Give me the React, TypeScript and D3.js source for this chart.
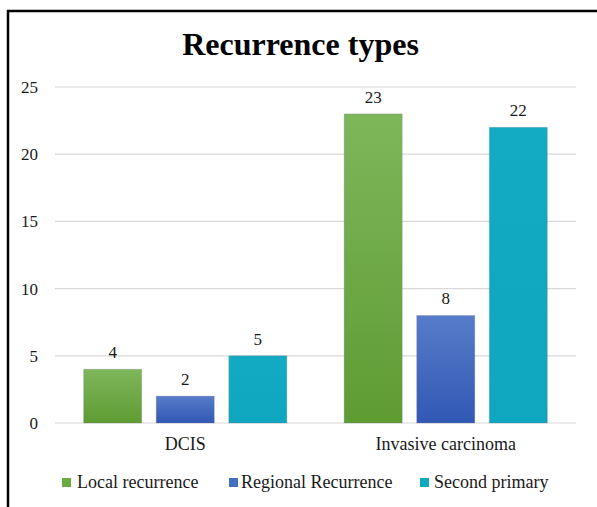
import { scaleBand, scaleLinear } from "d3";

const categories = ["DCIS", "Invasive carcinoma"];
const seriesNames = ["Local recurrence", "Regional Recurrence", "Second primary"];
const localRecurrence = [4, 23];
const regionalRecurrence = [2, 8];
const secondPrimary = [5, 22];
const yTicks = [0, 5, 10, 15, 20, 25];

const seriesValues = [localRecurrence, regionalRecurrence, secondPrimary];
const gradients = [
  { id: "g-local", top: "#7eb65b", bottom: "#5e9c32" },
  { id: "g-regional", top: "#577cca", bottom: "#3158b4" },
  { id: "g-second", top: "#13abc3", bottom: "#0fa6bf" },
];
const legendColors = ["#6aab44", "#4470c4", "#11a8c1"];

const W = 597;
const H = 507;
const serif = { fontFamily: "'Liberation Serif', 'Times New Roman', serif" };

export default function App() {
  const x0 = scaleBand<string>()
    .domain(categories)
    .range([55, 576])
    .paddingInner(0.22)
    .paddingOuter(0.11);
  const x1 = scaleBand<string>()
    .domain(seriesNames)
    .range([0, x0.bandwidth()])
    .paddingInner(0.2);
  const y = scaleLinear().domain([0, 25]).range([423, 87]);

  // legend square x positions and text offsets
  const legendX = [62, 229, 420];
  const legendTextX = [77, 241, 434];

  return (
    <svg
      width={W}
      height={H}
      style={{ position: "absolute", left: 0, top: 0, background: "#fff" }}
    >
      <defs>
        {gradients.map((g) => (
          <linearGradient key={g.id} id={g.id} x1="0" y1="0" x2="0" y2="1">
            <stop offset="0" stopColor={g.top} />
            <stop offset="1" stopColor={g.bottom} />
          </linearGradient>
        ))}
      </defs>
      <rect x={0} y={0} width={W} height={H} fill="#fff" />
      {/* frame */}
      <line x1={7} y1={11} x2={W} y2={11} stroke="#000" strokeWidth={2.5} />
      <line x1={8} y1={10} x2={8} y2={H} stroke="#000" strokeWidth={2.5} />

      <text
        x={300.5}
        y={55}
        textAnchor="middle"
        fontSize={32}
        fontWeight="bold"
        fill="#000"
        style={serif}
      >
        Recurrence types
      </text>

      {yTicks.map((t) => (
        <g key={t}>
          <line
            x1={55}
            x2={576}
            y1={y(t)}
            y2={y(t)}
            stroke="#d9d9d9"
            strokeWidth={1.2}
          />
          <text
            x={38}
            y={y(t) + 6}
            textAnchor="end"
            fontSize={17}
            fill="#1a1a1a"
            style={serif}
          >
            {t}
          </text>
        </g>
      ))}

      {categories.map((c, ci) => (
        <g key={c}>
          {seriesNames.map((s, si) => {
            const v = seriesValues[si][ci];
            const bx = (x0(c) ?? 0) + (x1(s) ?? 0);
            return (
              <g key={s}>
                <rect
                  x={bx}
                  y={y(v)}
                  width={x1.bandwidth()}
                  height={y(0) - y(v)}
                  fill={`url(#${gradients[si].id})`}
                  stroke="rgba(120,120,140,0.25)"
                  strokeWidth={1}
                />
                <text
                  x={bx + x1.bandwidth() / 2}
                  y={y(v) - 11}
                  textAnchor="middle"
                  fontSize={17}
                  fill="#1a1a1a"
                  style={serif}
                >
                  {v}
                </text>
              </g>
            );
          })}
          <text
            x={(x0(c) ?? 0) + x0.bandwidth() / 2}
            y={450}
            textAnchor="middle"
            fontSize={18}
            fill="#1a1a1a"
            style={serif}
          >
            {c}
          </text>
        </g>
      ))}

      {seriesNames.map((s, si) => (
        <g key={s}>
          <rect
            x={legendX[si]}
            y={478}
            width={9}
            height={9}
            fill={legendColors[si]}
          />
          <text
            x={legendTextX[si]}
            y={488}
            fontSize={18}
            fill="#1a1a1a"
            style={serif}
          >
            {s}
          </text>
        </g>
      ))}
    </svg>
  );
}
